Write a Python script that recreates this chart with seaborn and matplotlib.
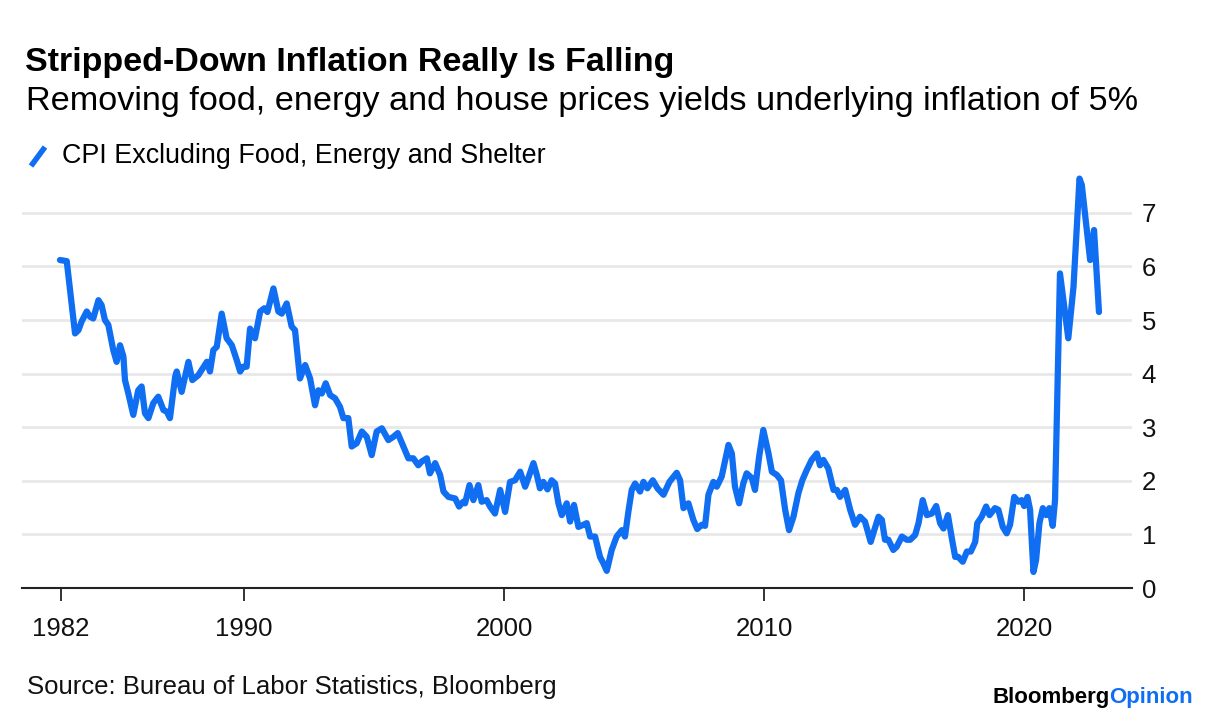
import pandas as pd
import numpy as np
import matplotlib.pyplot as plt
import seaborn as sns
from matplotlib.lines import Line2D

# values (decimal year, % y/y)
dates = [1982.92, 1983.18, 1983.50, 1983.63, 1983.75, 1983.95, 1984.08, 1984.20, 1984.40, 1984.52,
         1984.65, 1984.78, 1984.97, 1985.10, 1985.23, 1985.36, 1985.42, 1985.55, 1985.74, 1985.93,
         1986.06, 1986.19, 1986.32, 1986.51, 1986.70, 1986.90, 1987.03, 1987.15, 1987.35, 1987.41,
         1987.60, 1987.86, 1988.01, 1988.24, 1988.57, 1988.69, 1988.82, 1988.95, 1989.14, 1989.33,
         1989.53, 1989.72, 1989.85, 1989.97, 1990.10, 1990.23, 1990.42, 1990.62, 1990.78, 1990.90,
         1991.13, 1991.32, 1991.45, 1991.64, 1991.83, 1991.96, 1992.15, 1992.35, 1992.54, 1992.73,
         1992.86, 1992.99, 1993.14, 1993.31, 1993.50, 1993.69, 1993.82, 1994.01, 1994.14, 1994.33,
         1994.53, 1994.72, 1994.91, 1995.10, 1995.30, 1995.55, 1995.74, 1995.91, 1996.13, 1996.32,
         1996.51, 1996.70, 1996.83, 1997.03, 1997.15, 1997.35, 1997.54, 1997.67, 1997.86, 1998.12,
         1998.27, 1998.43, 1998.50, 1998.67, 1998.82, 1999.01, 1999.14, 1999.33, 1999.46, 1999.65,
         1999.85, 2000.04, 2000.23, 2000.42, 2000.62, 2000.81, 2000.93, 2001.13, 2001.26, 2001.38,
         2001.51, 2001.67, 2001.83, 2001.96, 2002.09, 2002.22, 2002.41, 2002.54, 2002.69, 2002.86,
         2003.05, 2003.18, 2003.31, 2003.50, 2003.69, 2003.82, 2003.95, 2004.14, 2004.33, 2004.53,
         2004.65, 2004.78, 2004.91, 2005.04, 2005.23, 2005.36, 2005.51, 2005.72, 2005.90, 2006.13,
         2006.36, 2006.64, 2006.77, 2006.90, 2007.09, 2007.28, 2007.43, 2007.60, 2007.73, 2007.86,
         2008.05, 2008.18, 2008.37, 2008.63, 2008.76, 2008.88, 2009.04, 2009.20, 2009.33, 2009.53,
         2009.65, 2009.81, 2009.97, 2010.17, 2010.30, 2010.49, 2010.65, 2010.81, 2010.96, 2011.13,
         2011.32, 2011.47, 2011.64, 2011.83, 2012.03, 2012.15, 2012.28, 2012.47, 2012.67, 2012.80,
         2012.92, 2013.12, 2013.31, 2013.50, 2013.69, 2013.88, 2014.10, 2014.20, 2014.40, 2014.53,
         2014.65, 2014.78, 2014.97, 2015.10, 2015.30, 2015.49, 2015.62, 2015.81, 2015.94, 2016.10,
         2016.26, 2016.45, 2016.62, 2016.77, 2016.90, 2017.07, 2017.22, 2017.35, 2017.47, 2017.64,
         2017.80, 2017.95, 2018.12, 2018.20, 2018.37, 2018.54, 2018.67, 2018.88, 2019.01, 2019.18,
         2019.33, 2019.46, 2019.62, 2019.78, 2019.91, 2020.00, 2020.13, 2020.23, 2020.36, 2020.46,
         2020.59, 2020.72, 2020.85, 2020.97, 2021.10, 2021.19, 2021.38, 2021.70, 2021.90, 2022.13,
         2022.22, 2022.54, 2022.69, 2022.88]
cpi_ex = [6.12, 6.10, 4.75, 4.81, 4.97, 5.16, 5.06, 5.03, 5.37, 5.28,
          5.00, 4.91, 4.44, 4.22, 4.53, 4.32, 3.88, 3.63, 3.23, 3.69,
          3.76, 3.26, 3.17, 3.45, 3.57, 3.32, 3.29, 3.17, 3.94, 4.04,
          3.66, 4.22, 3.88, 3.97, 4.22, 4.04, 4.44, 4.50, 5.12, 4.66,
          4.53, 4.25, 4.04, 4.13, 4.13, 4.84, 4.66, 5.16, 5.22, 5.15,
          5.59, 5.16, 5.12, 5.31, 4.88, 4.81, 3.91, 4.16, 3.91, 3.41,
          3.69, 3.63, 3.82, 3.60, 3.54, 3.38, 3.17, 3.17, 2.64, 2.70,
          2.92, 2.82, 2.48, 2.92, 2.98, 2.76, 2.82, 2.89, 2.64, 2.42,
          2.42, 2.29, 2.36, 2.42, 2.14, 2.33, 2.11, 1.80, 1.70, 1.67,
          1.52, 1.61, 1.58, 1.92, 1.64, 1.92, 1.61, 1.64, 1.52, 1.39,
          1.83, 1.42, 1.98, 2.01, 2.17, 1.89, 2.05, 2.33, 2.11, 1.86,
          1.98, 1.84, 2.01, 1.95, 1.58, 1.36, 1.58, 1.24, 1.55, 1.14,
          1.18, 1.21, 0.96, 0.96, 0.58, 0.46, 0.32, 0.71, 0.96, 1.08,
          0.96, 1.42, 1.83, 1.95, 1.80, 1.98, 1.86, 2.01, 1.86, 1.74,
          1.98, 2.15, 2.01, 1.49, 1.58, 1.27, 1.10, 1.18, 1.16, 1.74,
          1.98, 1.89, 2.08, 2.67, 2.51, 1.89, 1.58, 1.95, 2.14, 2.05,
          1.83, 2.45, 2.95, 2.51, 2.17, 2.11, 2.01, 1.46, 1.08, 1.33,
          1.77, 2.01, 2.20, 2.39, 2.51, 2.29, 2.39, 2.23, 1.83, 1.83,
          1.70, 1.83, 1.46, 1.18, 1.33, 1.24, 0.86, 1.02, 1.33, 1.27,
          0.90, 0.90, 0.71, 0.77, 0.96, 0.90, 0.90, 0.99, 1.21, 1.64,
          1.36, 1.39, 1.53, 1.21, 1.11, 1.36, 0.93, 0.58, 0.58, 0.49,
          0.68, 0.68, 0.86, 1.21, 1.33, 1.52, 1.36, 1.49, 1.46, 1.14,
          1.02, 1.18, 1.70, 1.61, 1.64, 1.53, 1.70, 1.46, 0.30, 0.52,
          1.21, 1.49, 1.36, 1.49, 1.16, 1.64, 5.87, 4.66, 5.62, 7.64,
          7.52, 6.12, 6.68, 5.15]

xtick_pos = [1982.96, 1990, 2000, 2010, 2020]
xtick_labels = ["1982", "1990", "2000", "2010", "2020"]
yticks = [0, 1, 2, 3, 4, 5, 6, 7]

df = pd.DataFrame({"date": dates, "cpi": cpi_ex})

BLUE = "#0f6ef2"
W, H = 1223, 721

sns.set_style("white")
plt.rcParams['font.family'] = ['Liberation Sans', 'DejaVu Sans']

fig = plt.figure(figsize=(W / 100, H / 100), dpi=100)
ax = fig.add_axes([22 / W, 133 / H, (1132 - 22) / W, (588 - 170) / H])

sns.lineplot(data=df, x="date", y="cpi", ax=ax, color=BLUE, linewidth=4.5, sort=False)

ax.set_xlim(1981.46, 2024.15)
ax.set_ylim(0, 7.8)
ax.set_xlabel("")
ax.set_ylabel("")

ax.set_yticks(yticks)
ax.yaxis.tick_right()
ax.tick_params(axis="y", length=0, pad=7, labelsize=18.5, labelcolor="#111111")
ax.grid(axis="y", color="#e8e8e8", linewidth=2)
ax.set_axisbelow(True)

ax.set_xticks(xtick_pos)
ax.set_xticklabels(xtick_labels)
ax.tick_params(axis="x", direction="out", length=9, width=1.3, color="#222222",
               pad=12, labelsize=18.5, labelcolor="#111111", bottom=True)

for s in ["top", "left", "right"]:
    ax.spines[s].set_visible(False)
ax.spines["bottom"].set_color("#222222")
ax.spines["bottom"].set_linewidth(1.5)

# header
fig.text(25 / W, 1 - 71 / H, "Stripped-Down Inflation Really Is Falling",
         fontsize=24.5, fontweight="bold", color="black", va="baseline")
fig.text(26 / W, 1 - 110 / H,
         "Removing food, energy and house prices yields underlying inflation of 5%",
         fontsize=24.7, color="black", va="baseline")

# legend
fig.add_artist(Line2D([31 / W, 45 / W], [1 - 166 / H, 1 - 147 / H],
                      transform=fig.transFigure, color=BLUE, linewidth=4,
                      solid_capstyle="butt"))
fig.text(62 / W, 1 - 163 / H, "CPI Excluding Food, Energy and Shelter",
         fontsize=19.4, color="black", va="baseline")

# footer
fig.text(27 / W, 1 - 694 / H, "Source: Bureau of Labor Statistics, Bloomberg",
         fontsize=18.5, color="#111111", va="baseline")
t_op = fig.text(1193 / W, 1 - 703 / H, "Opinion", fontsize=16, fontweight="bold",
                color=BLUE, ha="right", va="baseline")
fig.canvas.draw()
bb = t_op.get_window_extent(renderer=fig.canvas.get_renderer())
fig.text(bb.x0 / W, 1 - 703 / H, "Bloomberg", fontsize=16, fontweight="bold",
         color="black", ha="right", va="baseline")

fig.savefig("out.png", dpi=100)
